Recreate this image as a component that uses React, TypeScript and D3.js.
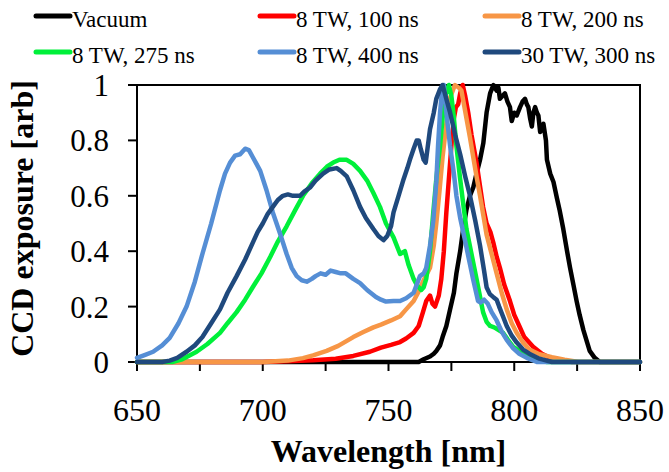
import * as d3 from 'd3';
import React from 'react';

// wavelength [nm], CCD exposure [arb]
const vacuum = [[650,0],[762,0],[764,0.01],[766.5,0.02],[768,0.03],[769,0.04],[770.5,0.06],[771.5,0.09],[773,0.13],[774.5,0.19],[776,0.25],[777,0.32],[778.5,0.40],[779.7,0.48],[781,0.55],[782.4,0.60],[783.7,0.63],[785,0.68],[786.4,0.73],[787.7,0.79],[789,0.9],[790.4,0.97],[791.7,1.0],[793,0.98],[793.7,0.99],[794.3,0.95],[795.3,0.96],[796.3,0.97],[797.3,0.94],[798.3,0.92],[799,0.87],[800,0.9],[801,0.89],[802.3,0.92],[803.3,0.94],[804.3,0.95],[805,0.93],[805.6,0.92],[806.3,0.88],[807,0.85],[807.6,0.9],[808.3,0.92],[809,0.9],[809.6,0.89],[810.3,0.83],[811,0.85],[811.6,0.86],[812.6,0.80],[813,0.73],[814.3,0.68],[815.6,0.65],[816.3,0.62],[817,0.59],[818,0.55],[819.5,0.48],[821,0.40],[822.2,0.34],[823.5,0.28],[824.8,0.22],[826,0.17],[827.5,0.115],[829,0.07],[830,0.04],[832,0.015],[834,0],[850,0]];
const tw8ns100 = [[650,0],[700,0],[710,0.003],[720,0.006],[729,0.012],[736,0.022],[742.6,0.037],[747,0.052],[751,0.062],[754.6,0.072],[757,0.085],[760,0.105],[762,0.13],[763.7,0.18],[765,0.22],[766.5,0.24],[767.5,0.21],[768.5,0.20],[770,0.24],[771,0.30],[772,0.40],[773,0.54],[774,0.66],[775,0.78],[776,0.88],[776.8,0.92],[777.7,0.93],[778.5,0.97],[779.5,1.0],[780.5,0.96],[781.7,0.90],[783,0.82],[785,0.72],[786.3,0.64],[787.6,0.56],[789,0.50],[790.5,0.47],[791.7,0.43],[793,0.38],[794.3,0.34],[796,0.28],[798.3,0.22],[800,0.17],[802,0.13],[804,0.09],[807.5,0.055],[811,0.03],[815,0.012],[823,0],[850,0]];
const tw8ns200 = [[650,0],[700,0],[710,0.005],[716,0.014],[720,0.024],[725.4,0.04],[730,0.058],[736,0.09],[740,0.108],[744,0.125],[747,0.135],[751,0.15],[754.6,0.165],[757,0.19],[760,0.22],[762,0.255],[763.7,0.29],[766.5,0.34],[768,0.42],[769,0.5],[770.3,0.62],[771.5,0.74],[773,0.86],[774.3,0.95],[776.4,1.0],[778,0.99],[779,0.98],[780,0.93],[781,0.88],[782.4,0.81],[783.7,0.74],[785,0.67],[786.4,0.60],[787.7,0.53],[789,0.46],[791,0.39],[793,0.32],[795,0.25],[797,0.19],[799,0.14],[801,0.105],[803.5,0.07],[806,0.045],[810,0.028],[815,0.017],[820,0.008],[825.6,0],[850,0]];
const tw8ns275 = [[650,0],[664,0],[668,0.01],[673.7,0.037],[678,0.065],[683,0.105],[686,0.14],[689.6,0.18],[693,0.225],[696,0.27],[699.5,0.32],[703,0.38],[706,0.435],[709.5,0.49],[713,0.55],[716,0.60],[719.5,0.645],[722.8,0.68],[725.5,0.705],[728,0.72],[730.5,0.73],[733.4,0.73],[736,0.715],[738.7,0.69],[741.5,0.655],[744,0.61],[746.6,0.56],[749,0.50],[752,0.45],[754.6,0.39],[756.5,0.40],[758,0.35],[760,0.30],[761.5,0.275],[763,0.26],[764,0.27],[765,0.30],[766.5,0.40],[767.8,0.54],[769,0.66],[770.5,0.78],[771.5,0.88],[772.5,0.96],[774,1.0],[775,0.96],[775.8,0.90],[777,0.78],[778.5,0.66],[780,0.55],[781,0.48],[783,0.39],[785,0.30],[786.3,0.24],[787.6,0.18],[789,0.145],[790.4,0.13],[792,0.125],[793,0.12],[795.6,0.105],[797.5,0.08],[799.6,0.055],[803,0.035],[806,0.02],[810,0.008],[813,0],[850,0]];
const tw8ns400 = [[650,0.015],[653,0.025],[656.4,0.037],[660,0.06],[663,0.087],[666.5,0.14],[669.7,0.2],[673,0.29],[676,0.39],[679.5,0.50],[683,0.62],[685,0.68],[687,0.72],[689,0.745],[691,0.75],[692,0.76],[693,0.77],[694.5,0.765],[696,0.74],[697.5,0.715],[699,0.69],[701.5,0.62],[704,0.54],[707,0.46],[709.5,0.39],[711.5,0.34],[713.5,0.31],[715.5,0.295],[717.5,0.29],[719.5,0.30],[721,0.31],[723,0.32],[725,0.315],[727,0.33],[729,0.325],[731,0.32],[733,0.32],[736,0.30],[738.7,0.285],[741.5,0.26],[745,0.235],[747,0.225],[749,0.218],[752,0.22],[754.6,0.22],[757,0.23],[760,0.25],[762.5,0.31],[764,0.32],[765,0.34],[766.5,0.42],[767.8,0.51],[769,0.65],[769.7,0.78],[770.5,0.9],[771.3,0.98],[772,1.0],[773,0.9],[774.5,0.78],[776,0.68],[777,0.6],[778.5,0.52],[780.4,0.44],[782,0.37],[783.6,0.30],[785.6,0.22],[786.6,0.215],[788,0.225],[789.5,0.21],[791,0.18],[793,0.15],[795,0.11],[797,0.08],[799.5,0.05],[802,0.03],[805,0.015],[809,0],[850,0]];
const tw30ns300 = [[650,0],[660,0],[663,0.005],[666,0.015],[669.7,0.037],[673,0.06],[676,0.09],[679.5,0.14],[683,0.19],[686,0.25],[689.6,0.31],[693,0.37],[696,0.43],[698,0.47],[700,0.50],[702,0.535],[704,0.56],[706,0.585],[708,0.60],[710,0.605],[712,0.60],[714.8,0.60],[716.5,0.615],[718.8,0.63],[721,0.655],[724,0.68],[726.5,0.695],[729.4,0.70],[731,0.69],[733.4,0.67],[736,0.62],[738.7,0.56],[741,0.52],[744,0.48],[746,0.455],[748,0.44],[749.5,0.455],[751,0.49],[752,0.54],[754,0.6],[756,0.66],[757.5,0.70],[758.5,0.73],[760,0.77],[761.2,0.80],[762,0.80],[762.8,0.77],[764,0.73],[764.8,0.72],[765.5,0.77],[766.5,0.84],[768,0.90],[769,0.95],[770.5,0.985],[771.5,1.0],[773,0.95],[774.5,0.90],[776.5,0.82],[778.5,0.75],[780.5,0.67],[782.4,0.60],[784.5,0.51],[786.4,0.42],[788,0.33],[789,0.27],[790.3,0.245],[791.6,0.235],[793,0.225],[794,0.20],[795.5,0.165],[797,0.13],[799,0.095],[801,0.07],[803.5,0.045],[806,0.03],[810,0.012],[815,0],[850,0]];

const seriesNames = ['Vacuum', '8 TW, 100 ns', '8 TW, 200 ns', '8 TW, 275 ns', '8 TW, 400 ns', '30 TW, 300 ns'];
const seriesColours = ['#000000', '#ff0000', '#f79646', '#00f03a', '#558ed5', '#1f497d'];
const seriesData = [vacuum, tw8ns100, tw8ns200, tw8ns275, tw8ns400, tw30ns300];

const xTicks = [650, 675, 700, 725, 750, 775, 800, 825, 850];
const xLabels = [650, 700, 750, 800, 850];
const yTicks = [0, 0.2, 0.4, 0.6, 0.8, 1];

const FONT = 'Liberation Serif'

export default function App() {
    const margin = { top: 85, left: 137, right: 29, bottom: 110 }
    const width = 669 - margin.left - margin.right
    const height = 472 - margin.top - margin.bottom

    const x = d3.scaleLinear().domain([650, 850]).range([0, width])
    const y = d3.scaleLinear().domain([0, 1]).range([height, 0])

    const line = d3.line<number[]>()
        .x(d => x(d[0]))
        .y(d => y(d[1]))

    const legendX = [36, 260, 485]
    const legendY = [16, 52]

    return (
        <svg width={669} height={472} fontFamily={FONT}
            style={{ position: 'absolute', left: 0, top: 0, background: '#fff', fontFamily: FONT }}>
            {/* texts first */}
            <text x={margin.left + width / 2} y={462} textAnchor="middle"
                fontFamily={FONT} fontSize={32} fontWeight="bold">Wavelength [nm]</text>
            <text transform={`translate(33,${margin.top + height / 2 - 5}) rotate(-90)`} textAnchor="middle"
                fontFamily={FONT} fontSize={32} fontWeight="bold">CCD exposure [arb]</text>

            {seriesNames.map((name, i) => {
                const lx = legendX[i % 3]
                const ly = legendY[Math.floor(i / 3)]
                return (
                    <g key={'lg' + name}>
                        <line x1={lx} x2={lx + 34} y1={ly} y2={ly} stroke={seriesColours[i]}
                            strokeWidth={5} strokeLinecap="round" />
                        <text x={lx + 36} y={ly + 11} fontFamily={FONT} fontSize={23}>{name}</text>
                    </g>
                )
            })}

            <g transform={`translate(${margin.left},${margin.top})`}>
                {xLabels.map(t => (
                    <text key={'xl' + t} x={x(t)} y={height + 59} textAnchor="middle"
                        fontFamily={FONT} fontSize={32}>{t}</text>
                ))}
                {yTicks.map(t => (
                    <text key={'yl' + t} x={-28} y={y(t) + 11} textAnchor="end"
                        fontFamily={FONT} fontSize={31}>{String(t)}</text>
                ))}

                <rect x={0} y={0} width={width} height={height} fill="none" stroke="#000" strokeWidth={2} />
                {xTicks.map(t => (
                    <line key={'xt' + t} x1={x(t)} x2={x(t)} y1={height} y2={height + 9} stroke="#000" strokeWidth={2} />
                ))}
                {yTicks.map(t => (
                    <line key={'yt' + t} x1={-9} x2={0} y1={y(t)} y2={y(t)} stroke="#000" strokeWidth={2} />
                ))}

                {seriesData.map((data, i) => (
                    <path key={seriesNames[i]} d={line(data) || ''} fill="none"
                        stroke={seriesColours[i]} strokeWidth={4.5}
                        strokeLinejoin="round" strokeLinecap="round" />
                ))}
            </g>
        </svg>
    )
}
